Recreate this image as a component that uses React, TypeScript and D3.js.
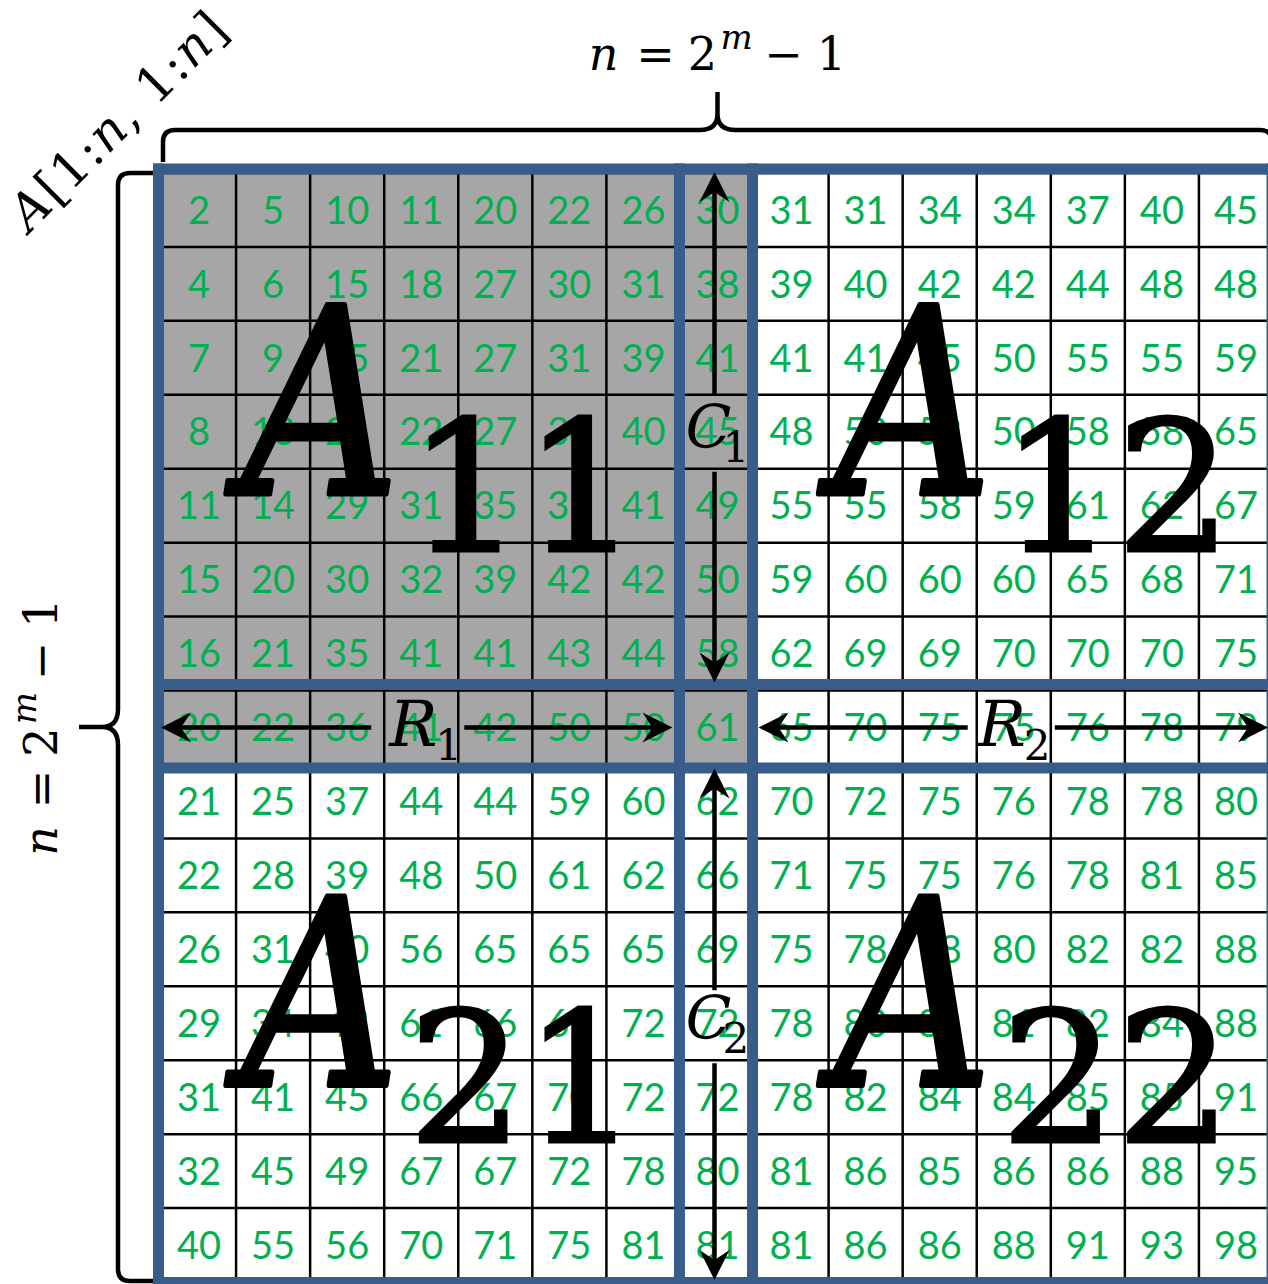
import React from "react";
import * as d3 from "d3";

// ---- data ----
const matrixRows: number[][] = [
  [2, 5, 10, 11, 20, 22, 26, 30, 31, 31, 34, 34, 37, 40, 45],
  [4, 6, 15, 18, 27, 30, 31, 38, 39, 40, 42, 42, 44, 48, 48],
  [7, 9, 15, 21, 27, 31, 39, 41, 41, 41, 45, 50, 55, 55, 59],
  [8, 13, 21, 22, 27, 34, 40, 45, 48, 50, 52, 50, 58, 58, 65],
  [11, 14, 29, 31, 35, 36, 41, 49, 55, 55, 58, 59, 61, 62, 67],
  [15, 20, 30, 32, 39, 42, 42, 50, 59, 60, 60, 60, 65, 68, 71],
  [16, 21, 35, 41, 41, 43, 44, 58, 62, 69, 69, 70, 70, 70, 75],
  [20, 22, 36, 41, 42, 50, 50, 61, 65, 70, 75, 75, 76, 78, 79],
  [21, 25, 37, 44, 44, 59, 60, 62, 70, 72, 75, 76, 78, 78, 80],
  [22, 28, 39, 48, 50, 61, 62, 66, 71, 75, 75, 76, 78, 81, 85],
  [26, 31, 40, 56, 65, 65, 65, 69, 75, 78, 78, 80, 82, 82, 88],
  [29, 34, 43, 61, 66, 69, 72, 72, 78, 80, 81, 81, 82, 84, 88],
  [31, 41, 45, 66, 67, 70, 72, 72, 78, 82, 84, 84, 85, 85, 91],
  [32, 45, 49, 67, 67, 72, 78, 80, 81, 86, 85, 86, 86, 88, 95],
  [40, 55, 56, 70, 71, 75, 81, 81, 81, 86, 86, 88, 91, 93, 98],
];
const blockNames = [
  { main: "A", sub: "11", row: 0, col: 0 },
  { main: "A", sub: "12", row: 0, col: 8 },
  { main: "A", sub: "21", row: 8, col: 0 },
  { main: "A", sub: "22", row: 8, col: 8 },
];
const sizeLabel = ["n", "=", "2", "m", "\u2212", "1"];

const BLUE = "#385D8A";
const GREY = "#A6A6A6";
const GREEN = "#00B050";
const MATH = "'DejaVu Serif', serif";

function head(tx: number, ty: number, dx: number, dy: number) {
  const L = 30, W = 15, Nn = 20;
  const px = -dy, py = dx;
  return `M${tx},${ty} L${tx - dx * L + px * W},${ty - dy * L + py * W} L${tx - dx * Nn},${ty - dy * Nn} L${tx - dx * L - px * W},${ty - dy * L - py * W} Z`;
}

function SizeLabel({ transform }: { transform: string }) {
  const offs = [-114, -62, -15, 19, 66, 114];
  return (
    <g transform={transform} fontFamily={MATH} fill="#000">
      {sizeLabel.map((s, i) => (
        <text
          key={i}
          x={offs[i]}
          y={i === 3 ? -21 : 0}
          fontSize={i === 3 ? 34 : 46}
          fontStyle={i === 0 || i === 3 ? "italic" : "normal"}
          textAnchor="middle"
        >
          {s}
        </text>
      ))}
    </g>
  );
}

export default function App() {
  const x = d3.scaleLinear().domain([0, 15]).range([162, 1273]);
  const y = d3.scaleLinear().domain([0, 15]).range([173, 1282]);
  const idx = d3.range(15);
  const colC = (j: number) => (x(j) + x(j + 1)) / 2;
  const rowC = (i: number) => (y(i) + y(i + 1)) / 2;

  const blueV = [x(0) - 3.5, x(7) - 1, x(8) - 2, x(15) - 1];
  const blueH = [y(0) - 4, y(7) - 6, y(8) + 3.5, y(15) + 0.5];

  const ax = colC(7) - 3;
  const ry = rowC(7);
  const arrowSegs: { x1: number; y1: number; x2: number; y2: number; tip: [number, number, number, number] }[] = [
    { x1: ax, y1: y(0) + 18, x2: ax, y2: y(3), tip: [ax, y(0) - 1, 0, -1] },
    { x1: ax, y1: y(4) + 3, x2: ax, y2: y(7) - 26, tip: [ax, y(7) - 8, 0, 1] },
    { x1: ax, y1: y(8) + 22, x2: ax, y2: y(11) + 4, tip: [ax, y(8) + 4, 0, -1] },
    { x1: ax, y1: y(12) + 3, x2: ax, y2: y(15) - 20, tip: [ax, y(15) - 2, 0, 1] },
    { x1: x(0) + 18, y1: ry, x2: x(3) - 13, y2: ry, tip: [x(0) - 1, ry, -1, 0] },
    { x1: x(4) + 6, y1: ry, x2: x(7) - 26, y2: ry, tip: [x(7) - 8, ry, 1, 0] },
    { x1: x(8) + 22, y1: ry, x2: x(11) - 9, y2: ry, tip: [x(8) + 4, ry, -1, 0] },
    { x1: x(12) + 4, y1: ry, x2: x(15) - 22, y2: ry, tip: [x(15) - 5, ry, 1, 0] },
  ];

  const vecLabels = [
    { t: "C", s: "1", cx: x(7) + 5, by: y(3) + 53, fs: 60, so: 37 },
    { t: "C", s: "2", cx: x(7) + 5, by: y(11) + 53, fs: 60, so: 37 },
    { t: "R", s: "1", cx: x(3) + 5, by: y(7) + 55, fs: 64, so: 46 },
    { t: "R", s: "2", cx: x(11) + 1, by: y(7) + 55, fs: 64, so: 46 },
  ];

  const tx0 = x(0) + 1, tx1 = x(15) - 1, tMid = (tx0 + tx1) / 2, tLine = 130, tEnd = 162, tTip = 92;
  const topBrace = `M${tx0},${tEnd} L${tx0},${tLine + 12} Q${tx0},${tLine} ${tx0 + 12},${tLine} L${tMid - 18},${tLine} Q${tMid},${tLine} ${tMid},${tLine - 16} L${tMid},${tTip} M${tMid},${tLine - 16} Q${tMid},${tLine} ${tMid + 18},${tLine} L${tx1 - 12},${tLine} Q${tx1},${tLine} ${tx1},${tLine + 12} L${tx1},${tEnd}`;
  const ly0 = y(0) + 0, ly1 = y(15) - 1, lMid = (ly0 + ly1) / 2, lLine = 118, lEnd = 153, lTip = 79;
  const leftBrace = `M${lEnd},${ly0} L${lLine + 12},${ly0} Q${lLine},${ly0} ${lLine},${ly0 + 12} L${lLine},${lMid - 18} Q${lLine},${lMid} ${lLine - 16},${lMid} L${lTip},${lMid} M${lLine - 16},${lMid} Q${lLine},${lMid} ${lLine},${lMid + 18} L${lLine},${ly1 - 12} Q${lLine},${ly1} ${lLine + 12},${ly1} L${lEnd},${ly1}`;

  return (
    <svg
      width={1268}
      height={1284}
      style={{ position: "absolute", left: 0, top: 0, display: "block", background: "#fff" }}
    >
      {idx.map((i) =>
        idx.map((j) => (
          <rect
            key={`c${i}-${j}`}
            x={x(j)}
            y={y(i)}
            width={x(j + 1) - x(j)}
            height={y(i + 1) - y(i)}
            fill={i < 8 && j < 8 ? GREY : "#fff"}
          />
        ))
      )}
      {d3.range(16).map((k) => (
        <line key={`v${k}`} x1={x(k)} x2={x(k)} y1={y(0)} y2={y(15)} stroke="#000" strokeWidth={2.5} />
      ))}
      {d3.range(16).map((k) => (
        <line key={`h${k}`} y1={y(k)} y2={y(k)} x1={x(0)} x2={x(15)} stroke="#000" strokeWidth={2.5} />
      ))}
      <g fontFamily="Lato, 'Open Sans', sans-serif" fontSize={38} fill={GREEN} textAnchor="middle">
        {matrixRows.map((row, i) =>
          row.map((v, j) => (
            <text key={`t${i}-${j}`} x={colC(j)} y={rowC(i)} dy="0.36em">
              {v}
            </text>
          ))
        )}
      </g>
      {blueV.map((bx, k) => (
        <line key={`bv${k}`} x1={bx} x2={bx} y1={y(0) - 9.5} y2={y(15) + 6} stroke={BLUE} strokeWidth={11} />
      ))}
      {blueH.map((by, k) => (
        <line key={`bh${k}`} y1={by} y2={by} x1={x(0) - 9} x2={x(15) + 6} stroke={BLUE} strokeWidth={11} />
      ))}
      {blockNames.map((b, k) => (
        <g key={`b${k}`} fontFamily={MATH} fill="#000" stroke="#000">
          <text
            transform={`translate(${x(b.col) + 80},${y(b.row) + 321}) scale(0.84,1)`}
            fontSize={260}
            fontStyle="italic"
            strokeWidth={5}
            strokeLinejoin="round"
          >
            {b.main}
          </text>
          <text x={x(b.col) + 246} y={y(b.row) + 378} fontSize={182} strokeWidth={3}>
            {b.sub}
          </text>
        </g>
      ))}
      {arrowSegs.map((a, k) => (
        <g key={`a${k}`}>
          <line x1={a.x1} y1={a.y1} x2={a.x2} y2={a.y2} stroke="#000" strokeWidth={4.5} />
          <path d={head(a.tip[0], a.tip[1], a.tip[2], a.tip[3])} fill="#000" />
        </g>
      ))}
      {vecLabels.map((l, k) => (
        <g key={`l${k}`} fontFamily={MATH} fill="#000">
          <text x={l.cx} y={l.by} fontSize={l.fs} fontStyle="italic">
            {l.t}
          </text>
          <text x={l.cx + l.so} y={l.by + 14} fontSize={42}>
            {l.s}
          </text>
        </g>
      ))}
      <path d={topBrace} fill="none" stroke="#000" strokeWidth={4.5} strokeLinejoin="round" />
      <path d={leftBrace} fill="none" stroke="#000" strokeWidth={4.5} strokeLinejoin="round" />
      <SizeLabel transform={`translate(${tMid},70)`} />
      <SizeLabel transform={`translate(57,${lMid}) rotate(-90)`} />
      <text
        transform="translate(118,121) rotate(-45)"
        fontFamily={MATH}
        fontSize={50}
        textAnchor="middle"
        dominantBaseline="central"
        textLength={284}
        lengthAdjust="spacing"
      >
        <tspan fontStyle="italic">A</tspan>
        <tspan>[1:</tspan>
        <tspan fontStyle="italic">n</tspan>
        <tspan>, 1:</tspan>
        <tspan fontStyle="italic">n</tspan>
        <tspan>]</tspan>
      </text>
    </svg>
  );
}
